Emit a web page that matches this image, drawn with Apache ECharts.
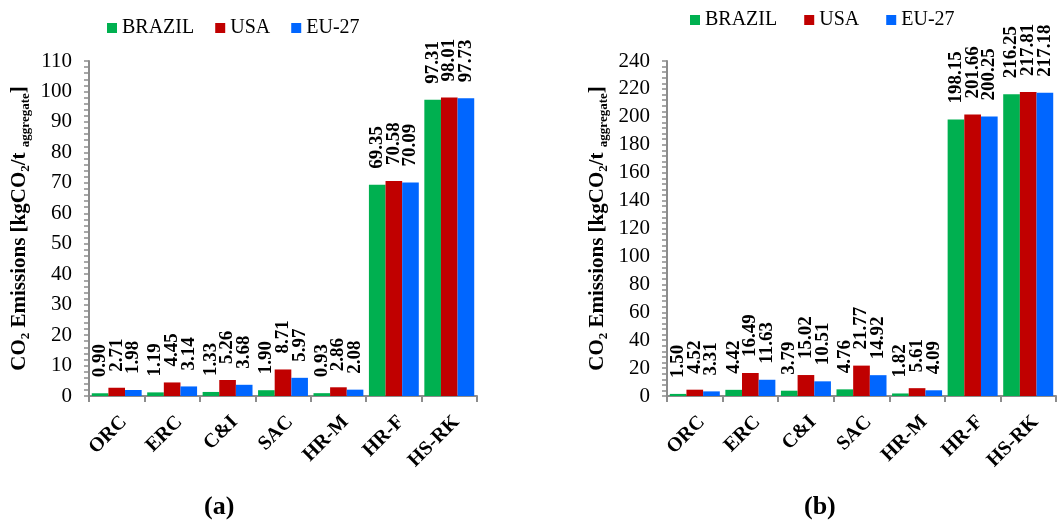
<!DOCTYPE html>
<html>
<head>
<meta charset="utf-8">
<title>CO2 Emissions</title>
<script src="https://cdn.jsdelivr.net/npm/echarts@6/dist/echarts.min.js"></script>
<style>
  html, body { margin: 0; padding: 0; background: #fff; }
  #chart { width: 1058px; height: 524px; }
</style>
</head>
<body>
<div id="chart"></div>
<script>
var categories = ['ORC', 'ERC', 'C&I', 'SAC', 'HR-M', 'HR-F', 'HS-RK'];
var seriesNames = ['BRAZIL', 'USA', 'EU-27'];

// (a)
var brazilA = [0.90, 1.19, 1.33, 1.90, 0.93, 69.35, 97.31];
var usaA = [2.71, 4.45, 5.26, 8.71, 2.86, 70.58, 98.01];
var euA = [1.98, 3.14, 3.68, 5.97, 2.08, 70.09, 97.73];

// (b)
var brazilB = [1.50, 4.42, 3.79, 4.76, 1.82, 198.15, 216.25];
var usaB = [4.52, 16.49, 15.02, 21.77, 5.61, 201.66, 217.81];
var euB = [3.31, 11.63, 10.51, 14.92, 4.09, 200.25, 217.18];

var colors = ['#00B050', '#C00000', '#0066FF'];
var font = "'Liberation Serif', 'Times New Roman', serif";

var yName = '{b|CO}{s|2}{b| Emissions [kgCO}{s|2}{b|/t }{s|aggregate}{b|]}';
var yNameStyle = {
  fontFamily: font,
  rich: {
    b: { fontSize: 21, fontWeight: 'bold', fontFamily: font, color: '#000', lineHeight: 25 },
    s: { fontSize: 13, fontWeight: 'bold', fontFamily: font, color: '#000', lineHeight: 10, verticalAlign: 'bottom' }
  }
};

function xAxisFor(gridIndex) {
  return {
    type: 'category',
    gridIndex: gridIndex,
    data: categories,
    axisLine: { lineStyle: { color: '#8c8c8c', width: 2 } },
    axisTick: { show: true, length: 6, lineStyle: { color: '#8c8c8c', width: 2 } },
    axisLabel: {
      interval: 0,
      rotate: 45,
      margin: 16,
      verticalAlign: 'top',
      fontSize: 20,
      fontWeight: 'bold',
      fontFamily: font,
      color: '#000'
    }
  };
}

function yAxisFor(gridIndex, max, interval) {
  return {
    type: 'value',
    gridIndex: gridIndex,
    min: 0,
    max: max,
    interval: interval,
    name: yName,
    nameLocation: 'middle',
    nameRotate: 90,
    nameGap: 57,
    nameTextStyle: yNameStyle,
    splitLine: { show: false },
    axisLine: { show: true, lineStyle: { color: '#8c8c8c', width: 2 } },
    axisTick: { show: true, length: 5, lineStyle: { color: '#8c8c8c', width: 1.5 } },
    minorTick: { show: true, splitNumber: 5, length: 5, lineStyle: { color: '#8c8c8c', width: 1.5 } },
    axisLabel: { margin: 17, fontSize: 21, fontFamily: font, color: '#000' }
  };
}

function barSeries(name, data, idx, gridIndex) {
  return {
    name: name,
    type: 'bar',
    xAxisIndex: gridIndex,
    yAxisIndex: gridIndex,
    data: data,
    barGap: '0%',
    barCategoryGap: '10%',
    itemStyle: { color: colors[idx] },
    label: {
      show: true,
      position: 'top',
      distance: 16,
      rotate: 90,
      align: 'left',
      verticalAlign: 'middle',
      fontSize: 19,
      fontWeight: 'bold',
      fontFamily: font,
      color: '#000',
      formatter: function (p) {
        return p.value.toFixed(2);
      }
    }
  };
}

function legendFor(left, top, gap) {
  return {
    data: seriesNames,
    left: left,
    top: top,
    padding: 0,
    itemWidth: 10,
    itemHeight: 10,
    itemGap: gap,
    icon: 'rect',
    textStyle: { fontSize: 20, fontFamily: font, color: '#000' }
  };
}

var option = {
  animation: false,
  color: colors,
  legend: [legendFor(107, 18, 21), legendFor(690, 10, 27)],
  grid: [
    { left: 89, top: 61, width: 388, height: 335 },
    { left: 667, top: 61, width: 389, height: 335 }
  ],
  xAxis: [xAxisFor(0), xAxisFor(1)],
  yAxis: [yAxisFor(0, 110, 10), yAxisFor(1, 240, 20)],
  series: [
    barSeries(seriesNames[0], brazilA, 0, 0),
    barSeries(seriesNames[1], usaA, 1, 0),
    barSeries(seriesNames[2], euA, 2, 0),
    barSeries(seriesNames[0], brazilB, 0, 1),
    barSeries(seriesNames[1], usaB, 1, 1),
    barSeries(seriesNames[2], euB, 2, 1)
  ],
  graphic: [
    {
      type: 'text', left: 204, top: 494,
      style: { text: '(a)', fontSize: 26, fontWeight: 'bold', fontFamily: font, fill: '#000' }
    },
    {
      type: 'text', left: 804, top: 494,
      style: { text: '(b)', fontSize: 26, fontWeight: 'bold', fontFamily: font, fill: '#000' }
    }
  ]
};

var chart = echarts.init(document.getElementById('chart'));
chart.setOption(option);
</script>
</body>
</html>
